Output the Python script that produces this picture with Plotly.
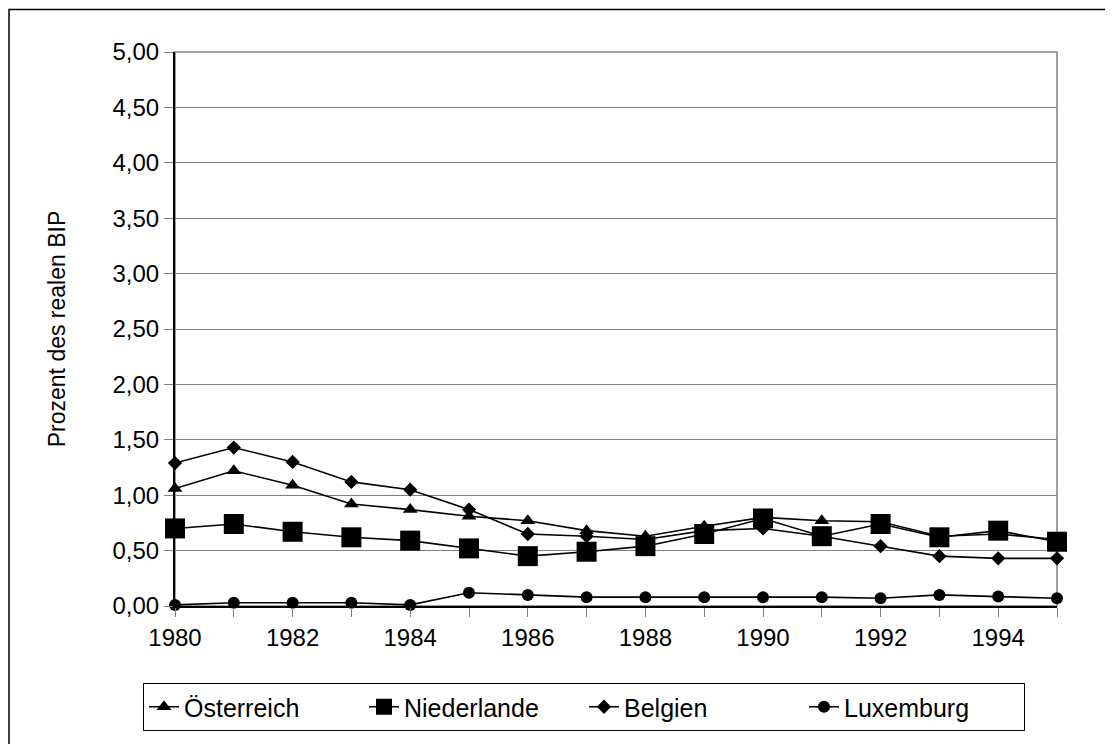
import plotly.graph_objects as go

years = list(range(1980, 1996))
oesterreich = [1.06, 1.22, 1.09, 0.92, 0.87, 0.81, 0.77, 0.68, 0.63, 0.72, 0.80, 0.77, 0.76, 0.63, 0.65, 0.60]
niederlande = [0.70, 0.74, 0.67, 0.62, 0.59, 0.52, 0.45, 0.49, 0.54, 0.65, 0.79, 0.63, 0.74, 0.62, 0.68, 0.58]
belgien = [1.29, 1.43, 1.30, 1.12, 1.05, 0.87, 0.65, 0.63, 0.60, 0.68, 0.70, 0.63, 0.54, 0.45, 0.43, 0.43]
luxemburg = [0.01, 0.03, 0.03, 0.03, 0.01, 0.12, 0.10, 0.08, 0.08, 0.08, 0.08, 0.08, 0.07, 0.10, 0.085, 0.07]

series = [
    ("Österreich", oesterreich, "triangle-up", 13),
    ("Niederlande", niederlande, "square", 20),
    ("Belgien", belgien, "diamond", 11),
    ("Luxemburg", luxemburg, "circle", 12),
]

FONT = "Liberation Sans, Arial, sans-serif"
fig = go.Figure()
for name, vals, sym, sz in series:
    fig.add_trace(go.Scatter(
        x=years, y=vals, name=name, mode="lines+markers",
        line=dict(color="black", width=1.6),
        marker=dict(symbol=sym, size=sz, color="black"),
        cliponaxis=False,
    ))

OFF = 8  # page body margin
W, H = 1113 - 2 * OFF, 752 - 2 * OFF
L, R, T, B = 175, 1057, 52, 606
pw, ph = R - L, B - T

def px(x):
    return (x - L) / pw

def py(y):
    return (B - y) / ph

fig.update_layout(
    width=W, height=H,
    margin=dict(l=L - OFF, r=(W + OFF) - R, t=T - OFF, b=(H + OFF) - B, pad=0),
    paper_bgcolor="white", plot_bgcolor="white",
    separators=", ",
    font=dict(family=FONT, size=24, color="black"),
    showlegend=True,
    legend=dict(
        orientation="h", x=px(584), xanchor="center", y=py(683), yanchor="top",
        bordercolor="black", borderwidth=1, font=dict(size=25),
        entrywidth=175,
    ),
    xaxis=dict(
        range=[1980, 1995], tickmode="linear", tick0=1980, dtick=2,
        showgrid=False, zeroline=False,
        showline=True, linecolor="black", linewidth=2,
        ticks="outside", ticklen=9, tickcolor="#808080", tickwidth=1,
        minor=dict(dtick=1, ticks="outside", ticklen=9, tickcolor="#808080", tickwidth=1, showgrid=False),
        tickfont=dict(size=24),
    ),
    yaxis=dict(
        range=[0, 5], tickmode="linear", tick0=0, dtick=0.5, tickformat=".2f",
        showgrid=True, gridcolor="#808080", gridwidth=1, zeroline=False,
        showline=True, linecolor="black", linewidth=2,
        ticks="outside", ticklen=9, tickcolor="#808080", tickwidth=1,
        tickfont=dict(size=24),
        title=dict(text="Prozent des realen BIP", font=dict(size=23), standoff=40),
    ),
    shapes=[
        dict(type="rect", xref="paper", yref="paper", x0=0, x1=1, y0=0, y1=1,
             line=dict(color="#808080", width=1.5), layer="below"),
        dict(type="rect", xref="paper", yref="paper", x0=px(9), x1=px(1130), y0=py(780), y1=py(9.5),
             line=dict(color="black", width=1.5), layer="below"),
    ],
)

fig.write_html("out.html")
